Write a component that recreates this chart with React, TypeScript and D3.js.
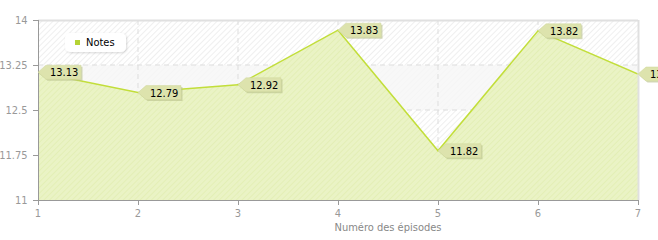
import React from "react";
import * as d3 from "d3";

const episodes = [1, 2, 3, 4, 5, 6, 7];
const notes = [13.13, 12.79, 12.92, 13.83, 11.82, 13.82, 13.1];
const yTicks = [11, 11.75, 12.5, 13.25, 14];
const yTickLabels = ["11", "11.75", "12.5", "13.25", "14"];
const seriesName = "Notes";
const xTitle = "Numéro des épisodes";

const W = 658, H = 240;
const M = { left: 38, right: 20, top: 20, bottom: 40 };
const FONT = "'DejaVu Sans Condensed', 'Liberation Sans', Arial, sans-serif";

export default function App() {
  const x = d3.scaleLinear().domain([1, 7]).range([M.left, W - M.right]);
  const y = d3.scaleLinear().domain([11, 14]).range([H - M.bottom, M.top]);
  const pts: [number, number][] = episodes.map((e, i) => [e, notes[i]]);
  const area = d3.area<[number, number]>().x(d => x(d[0])).y0(y(11)).y1(d => y(d[1]));
  const line = d3.line<[number, number]>().x(d => x(d[0])).y(d => y(d[1]));
  const x0 = x(1), x1 = x(7), yTop = y(14), yBot = y(11);

  return (
    <svg width={W} height={H} style={{ position: "absolute", left: 0, top: 0, fontFamily: FONT }}>
      <defs>
        <pattern id="hatchBg" width="4" height="4" patternUnits="userSpaceOnUse" patternTransform="rotate(45)">
          <line x1="0" y1="0" x2="0" y2="4" stroke="#e6e6e6" strokeWidth="1.3" />
        </pattern>
        <pattern id="hatchArea" width="4" height="4" patternUnits="userSpaceOnUse" patternTransform="rotate(45)">
          <line x1="0" y1="0" x2="0" y2="4" stroke="#dce9a4" strokeWidth="1.3" />
        </pattern>
        <clipPath id="plotClip">
          <rect x={x0} y={yTop} width={x1 - x0} height={yBot - yTop} />
        </clipPath>
        <filter id="shadow" x="-20%" y="-20%" width="150%" height="160%">
          <feDropShadow dx="1" dy="1" stdDeviation="1" floodColor="#000" floodOpacity="0.15" />
        </filter>
      </defs>
      <rect x={0} y={0} width={W} height={H} fill="#fff" />
      {yTicks.slice(0, -1).map((t, i) => (
        <g key={"band" + i}>
          <rect x={x0} y={y(yTicks[i + 1])} width={x1 - x0} height={y(t) - y(yTicks[i + 1])}
            fill={i % 2 === 0 ? "#f8f8f8" : "#ffffff"} />
          <rect x={x0} y={y(yTicks[i + 1])} width={x1 - x0} height={y(t) - y(yTicks[i + 1])}
            fill="url(#hatchBg)" opacity={i % 2 === 0 ? 0.25 : 1} />
        </g>
      ))}
      {yTicks.slice(1, -1).map((t, i) => (
        <line key={"gy" + i} x1={x0} x2={x1} y1={y(t)} y2={y(t)} stroke="#dddddd" strokeDasharray="5,4" />
      ))}
      {episodes.slice(1, -1).map((e, i) => (
        <line key={"gx" + i} x1={x(e)} x2={x(e)} y1={yTop} y2={yBot} stroke="#dddddd" strokeDasharray="5,4" />
      ))}
      <g clipPath="url(#plotClip)">
        <path d={area(pts) || ""} fill="#e8f2c0" fillOpacity={0.92} />
        <path d={area(pts) || ""} fill="url(#hatchArea)" opacity={0.7} />
        <path d={line(pts) || ""} fill="none" stroke="#c2de3a" strokeWidth={1.5} />
      </g>
      <line x1={x0} x2={x1} y1={yTop + 0.5} y2={yTop + 0.5} stroke="#e0e0e0" strokeWidth={2} />
      <line x1={x1 + 0.5} x2={x1 + 0.5} y1={yTop} y2={yBot} stroke="#e0e0e0" strokeWidth={2} />
      <line x1={x0 + 0.5} x2={x0 + 0.5} y1={yTop} y2={yBot + 5} stroke="#999" />
      <line x1={x0 - 5} x2={x1} y1={yBot + 0.5} y2={yBot + 0.5} stroke="#999" />
      {yTicks.map((t, i) => (
        <g key={"yt" + i}>
          <line x1={x0 - 5} x2={x0} y1={Math.round(y(t)) + 0.5} y2={Math.round(y(t)) + 0.5} stroke="#999" />
          <text x={27.5} y={y(t)} dy="0.35em" textAnchor="end" fontSize={11} fill="#999">{yTickLabels[i]}</text>
        </g>
      ))}
      {episodes.map((e, i) => (
        <g key={"xt" + i}>
          <line x1={Math.round(x(e)) + 0.5} x2={Math.round(x(e)) + 0.5} y1={yBot} y2={yBot + 5} stroke="#999" />
          <text x={x(e)} y={yBot + 17} textAnchor="middle" fontSize={11} fill="#999">{e}</text>
        </g>
      ))}
      <text x={388} y={231} textAnchor="middle" fontSize={11} fill="#888">{xTitle}</text>
      {pts.map((p, i) => {
        const px = x(p[0]), py = y(p[1]);
        const bx = px + 8, bw = 35, h = 7;
        const poly = [[px, py], [bx, py - h], [bx + bw, py - h], [bx + bw, py + h], [bx, py + h]]
          .map(q => q.join(",")).join(" ");
        return (
          <g key={"lab" + i}>
            <polygon points={poly} transform="translate(1.5,1.5)" fill="#b8bf8a" opacity={0.6} />
            <polygon points={poly} fill="#dde3ad" stroke="#cfd79a" strokeWidth={0.5} />
            <text x={bx + 4} y={py} dy="0.36em" fontSize={11} fill="#000">{p[1].toFixed(2)}</text>
          </g>
        );
      })}
      <g filter="url(#shadow)">
        <rect x={65} y={33} width={61} height={19} rx={5} fill="#fff" />
      </g>
      <rect x={75} y={40} width={5} height={5} fill="#b5d334" />
      <text x={86} y={42.5} dy="0.36em" fontSize={11} fill="#000">{seriesName}</text>
    </svg>
  );
}
